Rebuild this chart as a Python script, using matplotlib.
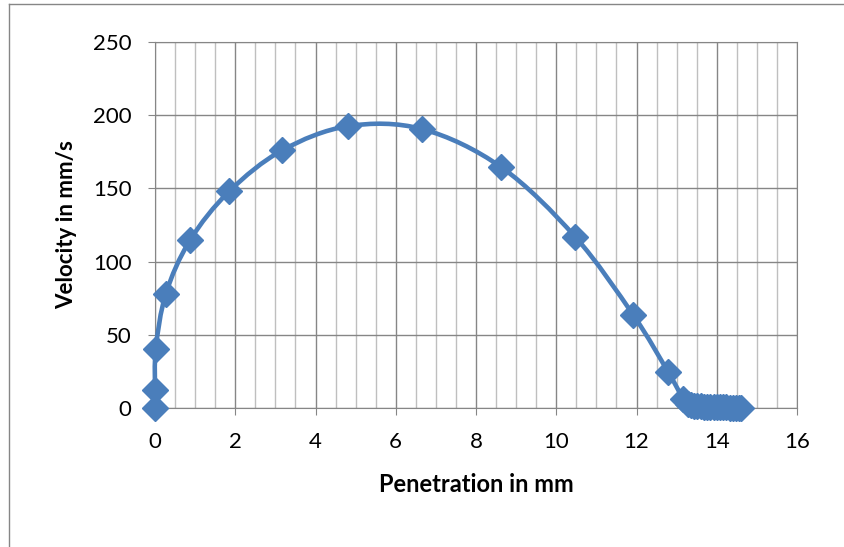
import numpy as np
import matplotlib
matplotlib.use("Agg")
import matplotlib.pyplot as plt
from matplotlib.path import Path
from matplotlib.patches import PathPatch
from matplotlib.lines import Line2D

# data
penetration = [0.0, 0.0, 0.02, 0.27, 0.87, 1.85, 3.17, 4.81, 6.66, 8.63, 10.47,
               11.92, 12.79, 13.17, 13.28, 13.36, 13.44, 13.52, 13.6, 13.68,
               13.76, 13.84, 13.92, 14.0, 14.08, 14.16, 14.24, 14.32, 14.4,
               14.48, 14.55, 14.6]
velocity = [0.0, 12.0, 40.5, 78.0, 114.5, 148.0, 176.0, 192.5, 190.5, 164.5, 117.0,
            63.5, 24.5, 6.0, 3.0, 2.2, 1.7, 1.4, 1.2, 1.0, 0.9, 0.8, 0.7, 0.6,
            0.5, 0.45, 0.4, 0.3, 0.25, 0.2, 0.1, 0.0]

blue = '#4a7ebb'
plt.rcParams['font.family'] = ['Lato', 'DejaVu Sans']

fig = plt.figure(figsize=(8.44, 5.47), dpi=100)
ax = fig.add_axes([155/844, 1-408/547, (797-155)/844, (408-42)/547])

# smooth line like Excel (Catmull-Rom as cubic Bezier, built from the data)
x = np.array(penetration)
y = np.array(velocity)
verts = [(x[0], y[0])]
codes = [Path.MOVETO]
n = len(x)
for i in range(n - 1):
    p0 = (x[max(i-1, 0)], y[max(i-1, 0)])
    p1 = (x[i], y[i])
    p2 = (x[i+1], y[i+1])
    p3 = (x[min(i+2, n-1)], y[min(i+2, n-1)])
    c1 = (p1[0] + (p2[0]-p0[0])/6, p1[1] + (p2[1]-p0[1])/6)
    c2 = (p2[0] - (p3[0]-p1[0])/6, p2[1] - (p3[1]-p1[1])/6)
    verts += [c1, c2, p2]
    codes += [Path.CURVE4]*3
ax.add_patch(PathPatch(Path(verts, codes), fill=False, edgecolor=blue, lw=3.3,
                       zorder=3, clip_on=False))
ax.plot(penetration, velocity, ls='none', marker='D', ms=13, color=blue,
        zorder=4, clip_on=False)

ax.set_xlim(0, 16)
ax.set_ylim(0, 250)
ax.set_xticks(range(0, 17, 2))
ax.set_xticks(np.arange(0, 16.01, 0.5), minor=True)
ax.set_yticks(range(0, 251, 50))
ax.grid(True, which='major', color='#868686', lw=1)
ax.grid(True, which='minor', axis='x', color='#bfbfbf', lw=1)
ax.set_axisbelow(True)
for s in ax.spines.values():
    s.set_color('#868686')
ax.tick_params(which='major', length=5, color='#868686', labelsize=16)
ax.tick_params(axis='x', pad=12)
ax.tick_params(axis='y', pad=12)
ax.tick_params(which='minor', length=0)
ax.set_xlabel('Penetration in mm', fontsize=17, fontweight='bold', va='center')
ax.set_ylabel('Velocity in mm/s', fontsize=16, fontweight='bold', va='center')
ax.xaxis.set_label_coords(0.5, (408-484)/366)
ax.yaxis.set_label_coords((67-155)/642, 0.5)

# chart border
fig.add_artist(Line2D([9/844, 1], [1-3.5/547, 1-3.5/547], color='#868686', lw=1))
fig.add_artist(Line2D([9/844, 9/844], [0, 1-3.5/547], color='#868686', lw=1))

fig.savefig('out.png', dpi=100)
